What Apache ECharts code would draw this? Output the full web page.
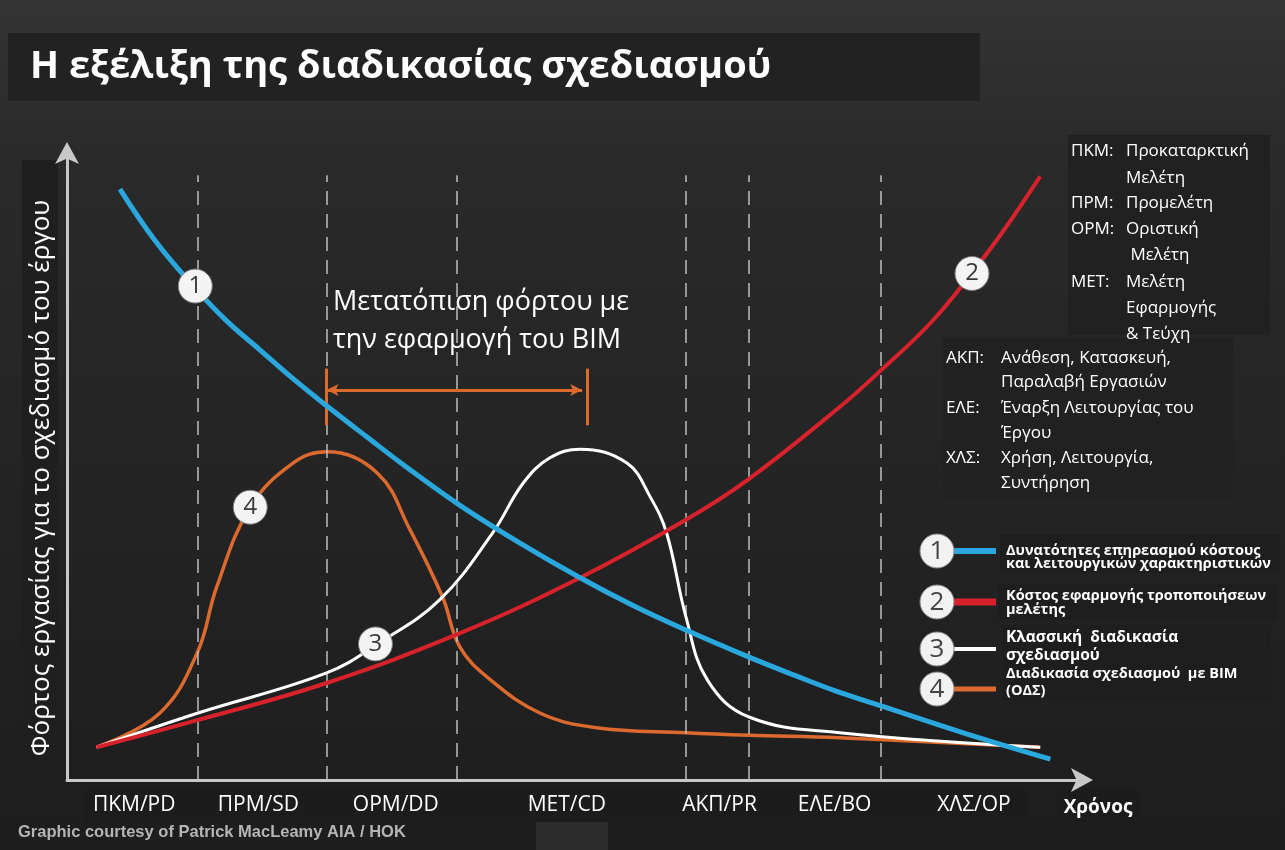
<!DOCTYPE html>
<html><head><meta charset="utf-8">
<script src="https://cdn.jsdelivr.net/npm/echarts@6/dist/echarts.min.js"></script>
<style>html,body{margin:0;padding:0;background:#262626}#c{width:1285px;height:850px}</style>
</head><body><div id="c"></div>
<script>
// ---- data ----
const phaseLines = [12.8, 25.5, 38.3, 60.8, 67.0, 79.9];
const phaseLabels = ['ΠΚΜ/PD','ΠΡΜ/SD','ΟΡΜ/DD','ΜΕΤ/CD','ΑΚΠ/PR','ΕΛΕ/BO','ΧΛΣ/OP'];
const phaseLabelPos = [6.6, 18.8, 32.3, 49.1, 64.1, 75.4, 89.1];

const blueX = [5.2, 8.7, 12.3, 15.6, 19.0, 22.2, 25.5, 29.5, 33.4, 38.6, 44.5, 50.4, 55.6, 60.8, 67.0, 71.5, 75.9, 79.9, 88.2, 96.6];
const blueY = [93.8, 85.5, 78.6, 73.0, 68.2, 63.7, 59.4, 54.4, 49.6, 43.6, 37.6, 32.1, 27.7, 23.8, 19.5, 16.6, 13.9, 11.8, 7.4, 3.3];

const redX = [2.9, 12.8, 25.5, 38.6, 50.4, 60.8, 67.0, 75.9, 80.0, 84.8, 88.9, 92.3, 95.6];
const redY = [5.2, 9.5, 15.4, 23.3, 32.1, 41.3, 47.8, 59.2, 65.1, 72.5, 80.5, 87.9, 95.8];

const whiteX = [2.9, 12.8, 25.5, 30.6, 36.6, 41.8, 44.8, 47.4, 50.4, 55.0, 57.3, 58.9, 60.8, 62.9, 67.0, 75.9, 95.6];
const whiteY = [5.2, 10.6, 17.0, 21.7, 28.6, 39.2, 47.1, 51.1, 52.5, 50.3, 44.9, 39.2, 25.9, 15.9, 10.0, 7.5, 5.2];

const orangeX = [2.9, 9.1, 12.8, 14.7, 18.0, 22.2, 25.5, 30.5, 33.7, 36.9, 38.6, 41.6, 46.5, 52.0, 60.8, 67.0, 75.9, 95.6];
const orangeY = [5.2, 10.6, 20.2, 30.6, 43.3, 50.3, 52.1, 48.7, 39.7, 29.0, 21.1, 15.9, 10.6, 8.3, 7.5, 7.1, 6.7, 5.2];

const markerNums = ['1','2','3','4'];
const markerX = [12.6, 88.9, 30.3, 18.0];
const markerY = [78.4, 80.4, 21.6, 43.3];

const shiftFrom = 25.5, shiftTo = 51.1, shiftLevel = 61.9;

const seriesColors = ['#2aa7dd', '#d8222b', '#ffffff', '#dc6a2e'];
const legendTexts = [
  ['Δυνατότητες επηρεασμού κόστους', 'και λειτουργικών χαρακτηριστικών'],
  ['Κόστος εφαρμογής τροποποιήσεων', 'μελέτης'],
  ['Κλασσική  διαδικασία', 'σχεδιασμού'],
  ['Διαδικασία σχεδιασμού  με BIM', '(ΟΔΣ)']
];
const abbrevBlockA = [
  ['ΠΚΜ:', 'Προκαταρκτική'], ['', 'Μελέτη'], ['ΠΡΜ:', 'Προμελέτη'], ['ΟΡΜ:', 'Οριστική'],
  ['', ' Μελέτη'], ['ΜΕΤ:', 'Μελέτη'], ['', 'Εφαρμογής'], ['', '& Τεύχη']
];
const abbrevBlockB = [
  ['ΑΚΠ:', 'Ανάθεση, Κατασκευή,'], ['', 'Παραλαβή Εργασιών'], ['ΕΛΕ:', 'Έναρξη Λειτουργίας του'],
  ['', 'Έργου'], ['ΧΛΣ:', 'Χρήση, Λειτουργία,'], ['', 'Συντήρηση']
];

const zip = (xs, ys) => xs.map((x, i) => [x, ys[i]]);
const FONT = '"Open Sans", "Noto Sans", sans-serif';

// ---- graphics ----
const g = [];
g.push({type:'rect', z:-5, shape:{x:8,y:33,width:972,height:68}, style:{fill:'#222222'}});
g.push({type:'text', z:10, x:30, y:67, style:{text:'Η εξέλιξη της διαδικασίας σχεδιασμού', fill:'#ffffff', font:'bold 38px '+FONT, verticalAlign:'middle'}});
// y axis name box + text
g.push({type:'rect', z:-5, shape:{x:22,y:160,width:36,height:615}, style:{fill:'#1f1f1f'}});
g.push({type:'text', z:10, x:42, y:478, rotation:Math.PI/2, style:{text:'Φόρτος εργασίας για το σχεδιασμό του έργου', fill:'#ffffff', font:'26px '+FONT, align:'center', verticalAlign:'middle'}});
// annotation
g.push({type:'rect', z:5, shape:{x:330,y:280,width:236,height:86}, style:{fill:'#262626'}});
g.push({type:'text', z:10, x:333, y:302, style:{text:'Μετατόπιση φόρτου με', fill:'#ffffff', font:'27px '+FONT, verticalAlign:'middle'}});
g.push({type:'text', z:10, x:333, y:340, style:{text:'την εφαρμογή του BIM', fill:'#ffffff', font:'27px '+FONT, verticalAlign:'middle'}});
// abbreviations
g.push({type:'rect', z:-5, shape:{x:1068,y:135,width:202,height:200}, style:{fill:'#212121'}});
g.push({type:'rect', z:-5, shape:{x:943,y:338,width:290,height:160}, style:{fill:'#212121'}});
const yA = [151, 178, 203, 229, 255, 282, 308, 334];
abbrevBlockA.forEach((r, i) => {
  if (r[0]) g.push({type:'text', z:10, x:1071, y:yA[i], style:{text:r[0], fill:'#ffffff', font:'17px '+FONT, verticalAlign:'middle'}});
  g.push({type:'text', z:10, x:1126, y:yA[i], style:{text:r[1], fill:'#ffffff', font:'17px '+FONT, verticalAlign:'middle'}});
});
const yB = [358, 382, 408, 433, 458, 483];
abbrevBlockB.forEach((r, i) => {
  if (r[0]) g.push({type:'text', z:10, x:946, y:yB[i], style:{text:r[0], fill:'#ffffff', font:'17px '+FONT, verticalAlign:'middle'}});
  g.push({type:'text', z:10, x:1001, y:yB[i], style:{text:r[1], fill:'#ffffff', font:'17px '+FONT, verticalAlign:'middle'}});
});
// legend
const legY = [551, 602, 649, 689];
const legTextY = [[551, 564], [596, 610], [638, 656], [674, 691]];
const legFont = ['bold 14.5px ', 'bold 14.5px ', 'bold 15.5px ', 'bold 14.5px '];
const stubW = [6, 7, 4, 5];
g.push({type:'rect', z:-5, shape:{x:1000,y:535,width:280,height:38}, style:{fill:'#1e1e1e'}});
g.push({type:'rect', z:-5, shape:{x:998,y:584,width:280,height:36}, style:{fill:'#1e1e1e'}});
g.push({type:'rect', z:-5, shape:{x:1003,y:625,width:268,height:75}, style:{fill:'#1e1e1e'}});
legendTexts.forEach((t, i) => {
  g.push({type:'line', z:8, shape:{x1:954,y1:legY[i],x2:996,y2:legY[i]}, style:{stroke:seriesColors[i], lineWidth:stubW[i]}});
  g.push({type:'circle', z:9, shape:{cx:937,cy:legY[i],r:17}, style:{fill:'#f2f2f2', stroke:'#888', lineWidth:1}});
  g.push({type:'text', z:10, x:937, y:legY[i]+1, style:{text:markerNums[i], fill:'#444', font:'26px '+FONT, align:'center', verticalAlign:'middle'}});
  t.forEach((line, j) => g.push({type:'text', z:10, x:1006, y:legTextY[i][j], style:{text:line, fill:'#ffffff', font:legFont[i]+FONT, verticalAlign:'middle'}}));
});
// x labels box, Χρόνος, footer
g.push({type:'rect', z:-5, shape:{x:85,y:790,width:945,height:33}, style:{fill:'#1c1c1c'}});
g.push({type:'rect', z:-5, shape:{x:1057,y:790,width:82,height:33}, style:{fill:'#1c1c1c'}});
g.push({type:'rect', z:-5, shape:{x:536,y:822,width:72,height:28}, style:{fill:'#2c2c2c'}});
g.push({type:'text', z:10, x:1098, y:808, style:{text:'Χρόνος', fill:'#ffffff', font:'bold 19px '+FONT, align:'center', verticalAlign:'middle'}});
g.push({type:'text', z:10, x:18, y:832, style:{text:'Graphic courtesy of Patrick MacLeamy AIA / HOK', fill:'#b5b5b5', font:'bold 16.5px "Liberation Sans", sans-serif', verticalAlign:'middle'}});

const dashedLines = phaseLines.map(x => [{coord:[x, 0]}, {coord:[x, 96]}]);

const option = {
  backgroundColor: {type:'linear', x:0, y:0, x2:0, y2:1, colorStops:[{offset:0,color:'#343434'},{offset:0.18,color:'#2a2a2a'},{offset:1,color:'#1d1d1d'}]},
  animation: false,
  grid: {left:67, right:200, top:150, bottom:70, containLabel:false},
  xAxis: {
    type:'value', min:0, max:100,
    axisLine:{show:true, lineStyle:{color:'#c8c8c8', width:3}, symbol:['none','arrow'], symbolSize:[18,22], symbolOffset:[0,8]},
    axisTick:{show:false}, splitLine:{show:false},
    axisLabel:{customValues: phaseLabelPos, margin:15, color:'#ffffff', fontSize:21, fontFamily:FONT,
      formatter: v => { let k = 0; phaseLabelPos.forEach((p, i) => { if (Math.abs(p - v) < Math.abs(phaseLabelPos[k] - v)) k = i; }); return phaseLabels[k]; }}
  },
  yAxis: {
    type:'value', min:0, max:100,
    axisLine:{show:true, lineStyle:{color:'#c8c8c8', width:3}, symbol:['none','arrow'], symbolSize:[18,22], symbolOffset:[0,8]},
    axisTick:{show:false}, splitLine:{show:false}, axisLabel:{show:false}
  },
  graphic: g,
  series: [
    {type:'line', z:1, data:[[0,0]], showSymbol:false, lineStyle:{width:0}, silent:true,
      markLine:{silent:true, symbol:['none','none'], label:{show:false},
        lineStyle:{color:'#bdbdbd', width:1.5, type:[14,9]}, data: dashedLines}},
    {type:'line', z:3, data:[[0,0]], showSymbol:false, lineStyle:{width:0}, silent:true,
      markLine:{silent:true, symbol:['arrow','arrow'], symbolSize:[9,12], label:{show:false},
        lineStyle:{color:'#dc6a2e', width:3, type:'solid'},
        data:[
          [{coord:[shiftFrom, shiftLevel]}, {coord:[shiftTo - 0.5, shiftLevel]}],
          [{coord:[shiftTo, shiftLevel - 5.6], symbol:'none'}, {coord:[shiftTo, shiftLevel + 3.4], symbol:'none'}],
          [{coord:[shiftFrom, shiftLevel - 5.6], symbol:'none'}, {coord:[shiftFrom, shiftLevel + 3.4], symbol:'none'}]
        ]}},
    {type:'line', name:'4', z:4, data:zip(orangeX, orangeY), smooth:0.4, showSymbol:false, lineStyle:{color:seriesColors[3], width:3.5}},
    {type:'line', name:'3', z:5, data:zip(whiteX, whiteY), smooth:0.4, showSymbol:false, lineStyle:{color:seriesColors[2], width:3}},
    {type:'line', name:'2', z:6, data:zip(redX, redY), smooth:0.4, showSymbol:false, lineStyle:{color:seriesColors[1], width:4}},
    {type:'line', name:'1', z:7, data:zip(blueX, blueY), smooth:0.4, showSymbol:false, lineStyle:{color:seriesColors[0], width:5}},
    {type:'scatter', z:9, symbolSize:34, data: markerX.map((x, i) => ({value:[x, markerY[i]], name:markerNums[i]})),
      itemStyle:{color:'#f4f4f4', borderColor:'#777', borderWidth:1, opacity:1},
      label:{show:true, position:'inside', formatter: p => p.name, color:'#3a3a3a', fontSize:24, fontFamily:FONT}}
  ]
};
echarts.init(document.getElementById('c')).setOption(option);
</script></body></html>
